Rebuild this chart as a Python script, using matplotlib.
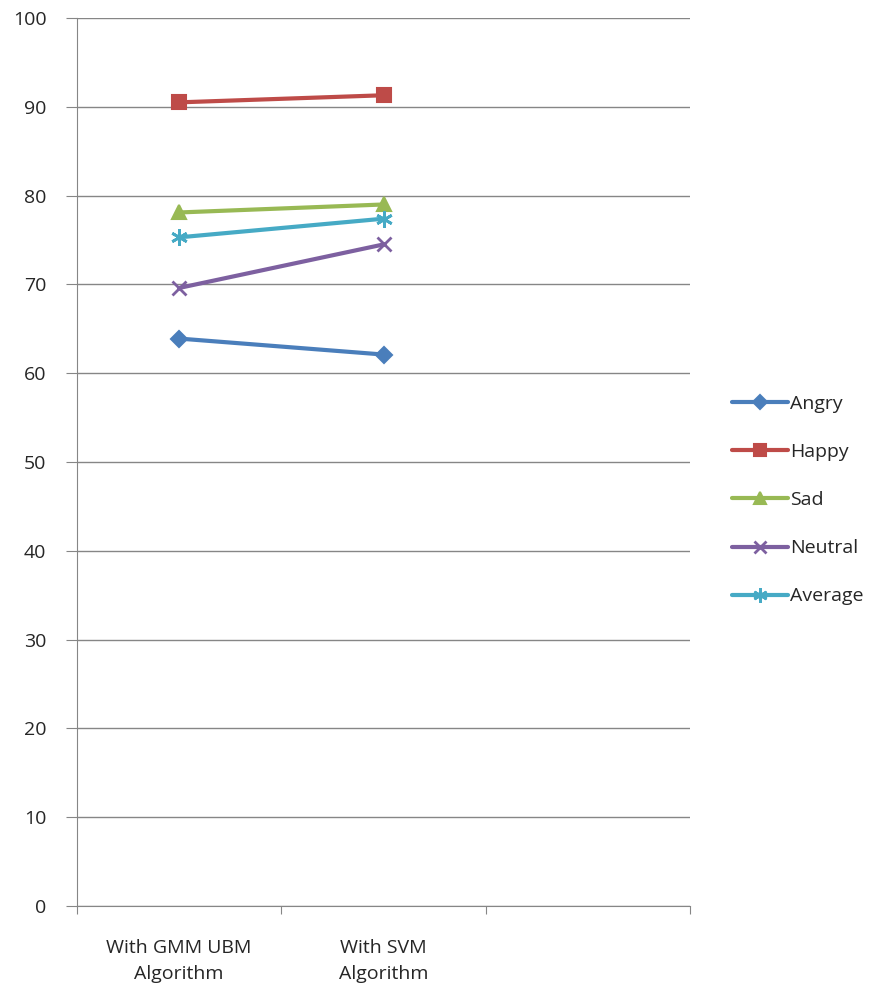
import matplotlib.pyplot as plt
import numpy as np

# emotion recognition accuracy (%) per method
categories = ["With GMM UBM\nAlgorithm", "With SVM\nAlgorithm"]
angry = [63.9, 62.1]
happy = [90.5, 91.3]
sad = [78.1, 79.0]
neutral = [69.6, 74.5]
average = [75.3, 77.4]

series = [
    ("Angry", angry, "#4a7ebb", "D", 8),
    ("Happy", happy, "#be4b48", "s", 10),
    ("Sad", sad, "#98b954", "^", 10),
    ("Neutral", neutral, "#7d60a0", "x", 10),
    ("Average", average, "#46aac5", (6, 2, 0), 12),
]

plt.rcParams['font.family'] = ['Open Sans', 'DejaVu Sans']
txt_col = "#262626"

fig = plt.figure(figsize=(8.84, 9.92), dpi=100)
ax = fig.add_axes([77 / 884, 1 - 906 / 992, 613 / 884, 888 / 992])

x = np.arange(len(categories))
for name, vals, col, mk, ms in series:
    ax.plot(x, vals, color=col, linewidth=3, marker=mk, markersize=ms,
            markeredgewidth=1.5 if mk in ("D", "s", "^") else 2,
            markeredgecolor=col, label=name, solid_capstyle="round")

# three category slots, the last one empty
ax.set_xlim(-0.5, 2.5)
ax.set_ylim(0, 100)
ax.set_yticks(np.arange(0, 101, 10))
ax.yaxis.grid(True, color="#868686", linewidth=1)
ax.set_axisbelow(True)

ax.set_xticks([-0.5, 0.5, 1.5, 2.5])
ax.set_xticklabels([])
ax.set_xticks(x, minor=True)
ax.set_xticklabels(categories, minor=True, fontsize=14, color=txt_col,
                   linespacing=1.55)
ax.tick_params(axis="x", which="minor", length=0, pad=24)
ax.tick_params(axis="x", which="major", length=6, color="#868686",
               direction="out")
ax.tick_params(axis="y", length=8, color="#868686", labelsize=14,
               labelcolor=txt_col, pad=14)

for side in ("top", "right"):
    ax.spines[side].set_visible(False)
for side in ("left", "bottom"):
    ax.spines[side].set_color("#868686")

leg = ax.legend(loc="center left", bbox_to_anchor=(1.04, 0.457), frameon=False,
                fontsize=14, handlelength=2.9, labelspacing=1.55,
                handletextpad=0.1, markerscale=0.85)
for t in leg.get_texts():
    t.set_color(txt_col)

fig.savefig("out.png", dpi=100)
